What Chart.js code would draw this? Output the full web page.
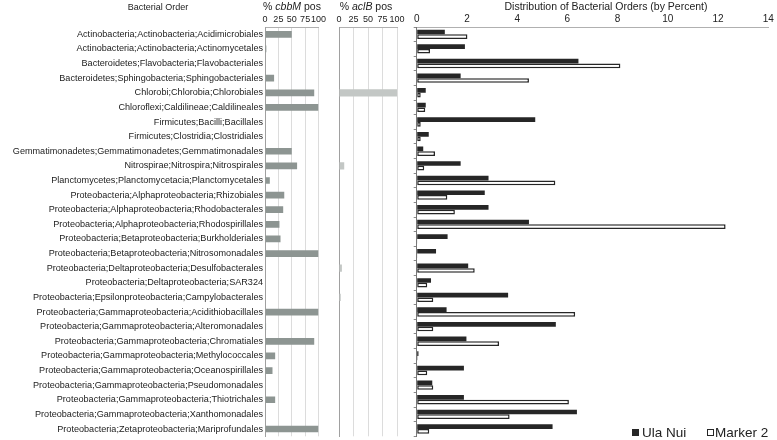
<!DOCTYPE html>
<html>
<head>
<meta charset="utf-8">
<script src="https://cdn.jsdelivr.net/npm/chart.js@4.4.1/dist/chart.umd.min.js"></script>
<style>
  body { margin: 0; background: #fff; font-family: "Liberation Sans", Arial, sans-serif; color: #222; }
  #wrap { position: relative; width: 777px; height: 440px; overflow: hidden; }
  canvas { position: absolute; left: 0; top: 0; }
  .ttl { position: absolute; top: 0; font-size: 10.5px; line-height: 13px; white-space: nowrap; transform: translateX(-50%); }
  .leg { position: absolute; top: 425px; font-size: 13.5px; line-height: 16px; white-space: nowrap; }
  .sq { display: inline-block; width: 7px; height: 7px; margin-right: 3px; vertical-align: 1px; box-sizing: border-box; }
</style>
</head>
<body>
<div id="wrap">
  <canvas id="cbbChart" width="777" height="440"></canvas>
  <canvas id="aclChart" width="777" height="440"></canvas>
  <canvas id="distChart" width="777" height="440"></canvas>
  <div class="ttl" style="left:158px;font-size:9px;top:1px">Bacterial Order</div>
  <div class="ttl" style="left:292px">% <i>cbbM</i> pos</div>
  <div class="ttl" style="left:366px">% <i>aclB</i> pos</div>
  <div class="ttl" style="left:606px">Distribution of Bacterial Orders (by Percent)</div>
  <div class="leg" style="left:632px"><span class="sq" style="background:#262626"></span>Ula Nui</div>
  <div class="leg" style="left:707px"><span class="sq" style="border:1.5px solid #262626;background:#fff;margin-right:1px"></span>Marker 2</div>
</div>
<script>
// Bacterial orders (top to bottom)
const orders = [
  "Actinobacteria;Actinobacteria;Acidimicrobiales",
  "Actinobacteria;Actinobacteria;Actinomycetales",
  "Bacteroidetes;Flavobacteria;Flavobacteriales",
  "Bacteroidetes;Sphingobacteria;Sphingobacteriales",
  "Chlorobi;Chlorobia;Chlorobiales",
  "Chloroflexi;Caldilineae;Caldilineales",
  "Firmicutes;Bacilli;Bacillales",
  "Firmicutes;Clostridia;Clostridiales",
  "Gemmatimonadetes;Gemmatimonadetes;Gemmatimonadales",
  "Nitrospirae;Nitrospira;Nitrospirales",
  "Planctomycetes;Planctomycetacia;Planctomycetales",
  "Proteobacteria;Alphaproteobacteria;Rhizobiales",
  "Proteobacteria;Alphaproteobacteria;Rhodobacterales",
  "Proteobacteria;Alphaproteobacteria;Rhodospirillales",
  "Proteobacteria;Betaproteobacteria;Burkholderiales",
  "Proteobacteria;Betaproteobacteria;Nitrosomonadales",
  "Proteobacteria;Deltaproteobacteria;Desulfobacterales",
  "Proteobacteria;Deltaproteobacteria;SAR324",
  "Proteobacteria;Epsilonproteobacteria;Campylobacterales",
  "Proteobacteria;Gammaproteobacteria;Acidithiobacillales",
  "Proteobacteria;Gammaproteobacteria;Alteromonadales",
  "Proteobacteria;Gammaproteobacteria;Chromatiales",
  "Proteobacteria;Gammaproteobacteria;Methylococcales",
  "Proteobacteria;Gammaproteobacteria;Oceanospirillales",
  "Proteobacteria;Gammaproteobacteria;Pseudomonadales",
  "Proteobacteria;Gammaproteobacteria;Thiotrichales",
  "Proteobacteria;Gammaproteobacteria;Xanthomonadales",
  "Proteobacteria;Zetaproteobacteria;Mariprofundales"
];

// % of each order positive for cbbM / aclB
const cbbMPos = [50, 2.5, 0, 17, 92, 100, 0, 0, 50, 60, 9, 36, 34, 27, 29, 100, 0, 0, 0, 100, 2, 92, 19, 14, 0, 19, 1, 100];
const aclBPos = [0, 0, 0, 0, 100, 0, 0, 0, 0, 9, 0, 0, 0, 0, 0, 0, 5, 0, 3, 0, 0, 0, 0, 0, 0, 0, 0, 0];

// distribution of orders (percent)
const ulaNui = [1.12, 1.92, 6.44, 1.75, 0.36, 0.36, 4.72, 0.48, 0.26, 1.75, 2.86, 2.71, 2.86, 4.47, 1.23, 0.77, 2.05, 0.57, 3.64, 1.19, 5.54, 1.98, 0.07, 1.88, 0.62, 1.88, 6.38, 5.41];
const marker2 = [2.02, 0.53, 8.11, 4.47, 0.16, 0.34, 0.16, 0.16, 0.73, 0.30, 5.52, 1.22, 1.52, 12.30, 0.03, 0.03, 2.31, 0.42, 0.66, 6.31, 0.66, 3.28, 0.04, 0.42, 0.66, 6.06, 3.70, 0.50];

const FONT = "'Liberation Sans', Arial, sans-serif";
const W = 777;
const AXIS_H = 27;   // height of the top tick row

// no extra padding for overflowing tick labels, so all three panels line up
function noOverflow(s) {
  s.paddingTop = 0; s.paddingBottom = 0; s.paddingLeft = 0; s.paddingRight = 0;
}

// shared x axis (at the top of each panel)
function topAxis(min, max, step, showGrid, size) {
  return {
    position: "top",
    min: min,
    max: max,
    afterFit: function (s) { s.height = AXIS_H; noOverflow(s); },
    ticks: { stepSize: step, padding: 2, autoSkip: false, maxRotation: 0, minRotation: 0, color: "#222", font: { family: FONT, size: size } },
    grid: { display: true, drawTicks: false, drawOnChartArea: showGrid, color: "#dcdcdc" },
    border: { display: true, color: "#b0b0b0" }
  };
}

function baseOptions(left, right) {
  return {
    indexAxis: "y",
    responsive: false,
    animation: false,
    layout: { padding: { left: left, right: right, top: 0, bottom: 3.7 } },
    plugins: { legend: { display: false }, tooltip: { enabled: false } }
  };
}

// Panel 1: order names + % cbbM pos
const cbbOpts = baseOptions(0, W - 318.5);
cbbOpts.scales = {
  x: topAxis(0, 100, 25, true, 9),
  y: {
    afterFit: function (s) { s.width = 265; noOverflow(s); },
    ticks: { padding: 2, color: "#222", autoSkip: false, font: { family: FONT, size: 9.1 } },
    grid: { display: false, drawTicks: false },
    border: { display: true, color: "#a0a0a0" }
  }
};
new Chart(document.getElementById("cbbChart"), {
  type: "bar",
  data: {
    labels: orders,
    datasets: [{ label: "% cbbM pos", data: cbbMPos, backgroundColor: "#8d9592", barPercentage: 0.46, categoryPercentage: 1 }]
  },
  options: cbbOpts
});

// Panel 2: % aclB pos
const aclOpts = baseOptions(339, W - 397);
aclOpts.scales = {
  x: topAxis(0, 100, 25, true, 9),
  y: {
    afterFit: function (s) { s.width = 0; noOverflow(s); },
    ticks: { display: false },
    grid: { display: false, drawTicks: false },
    border: { display: true, color: "#a0a0a0" }
  }
};
new Chart(document.getElementById("aclChart"), {
  type: "bar",
  data: {
    labels: orders,
    datasets: [{ label: "% aclB pos", data: aclBPos, backgroundColor: "#c3c7c5", barPercentage: 0.5, categoryPercentage: 1 }]
  },
  options: aclOpts
});

// Panel 3: distribution of bacterial orders
const distOpts = baseOptions(416.7, W - 768.3);
distOpts.scales = {
  x: topAxis(0, 14, 2, false, 10),
  y: {
    afterFit: function (s) { s.width = 0; noOverflow(s); },
    ticks: { display: false },
    grid: { display: true, drawOnChartArea: false, drawTicks: true, tickLength: 3, offset: true, color: "#888" },
    border: { display: true, color: "#777" }
  }
};
new Chart(document.getElementById("distChart"), {
  type: "bar",
  data: {
    labels: orders,
    datasets: [
      { label: "Ula Nui", data: ulaNui, backgroundColor: "#262626", borderWidth: 0, barPercentage: 1, categoryPercentage: 0.64 },
      { label: "Marker 2", data: marker2, backgroundColor: "#ffffff", borderColor: "#262626", borderWidth: 1.5, borderSkipped: false, barPercentage: 1, categoryPercentage: 0.64 }
    ]
  },
  options: distOpts
});
</script>
</body>
</html>
